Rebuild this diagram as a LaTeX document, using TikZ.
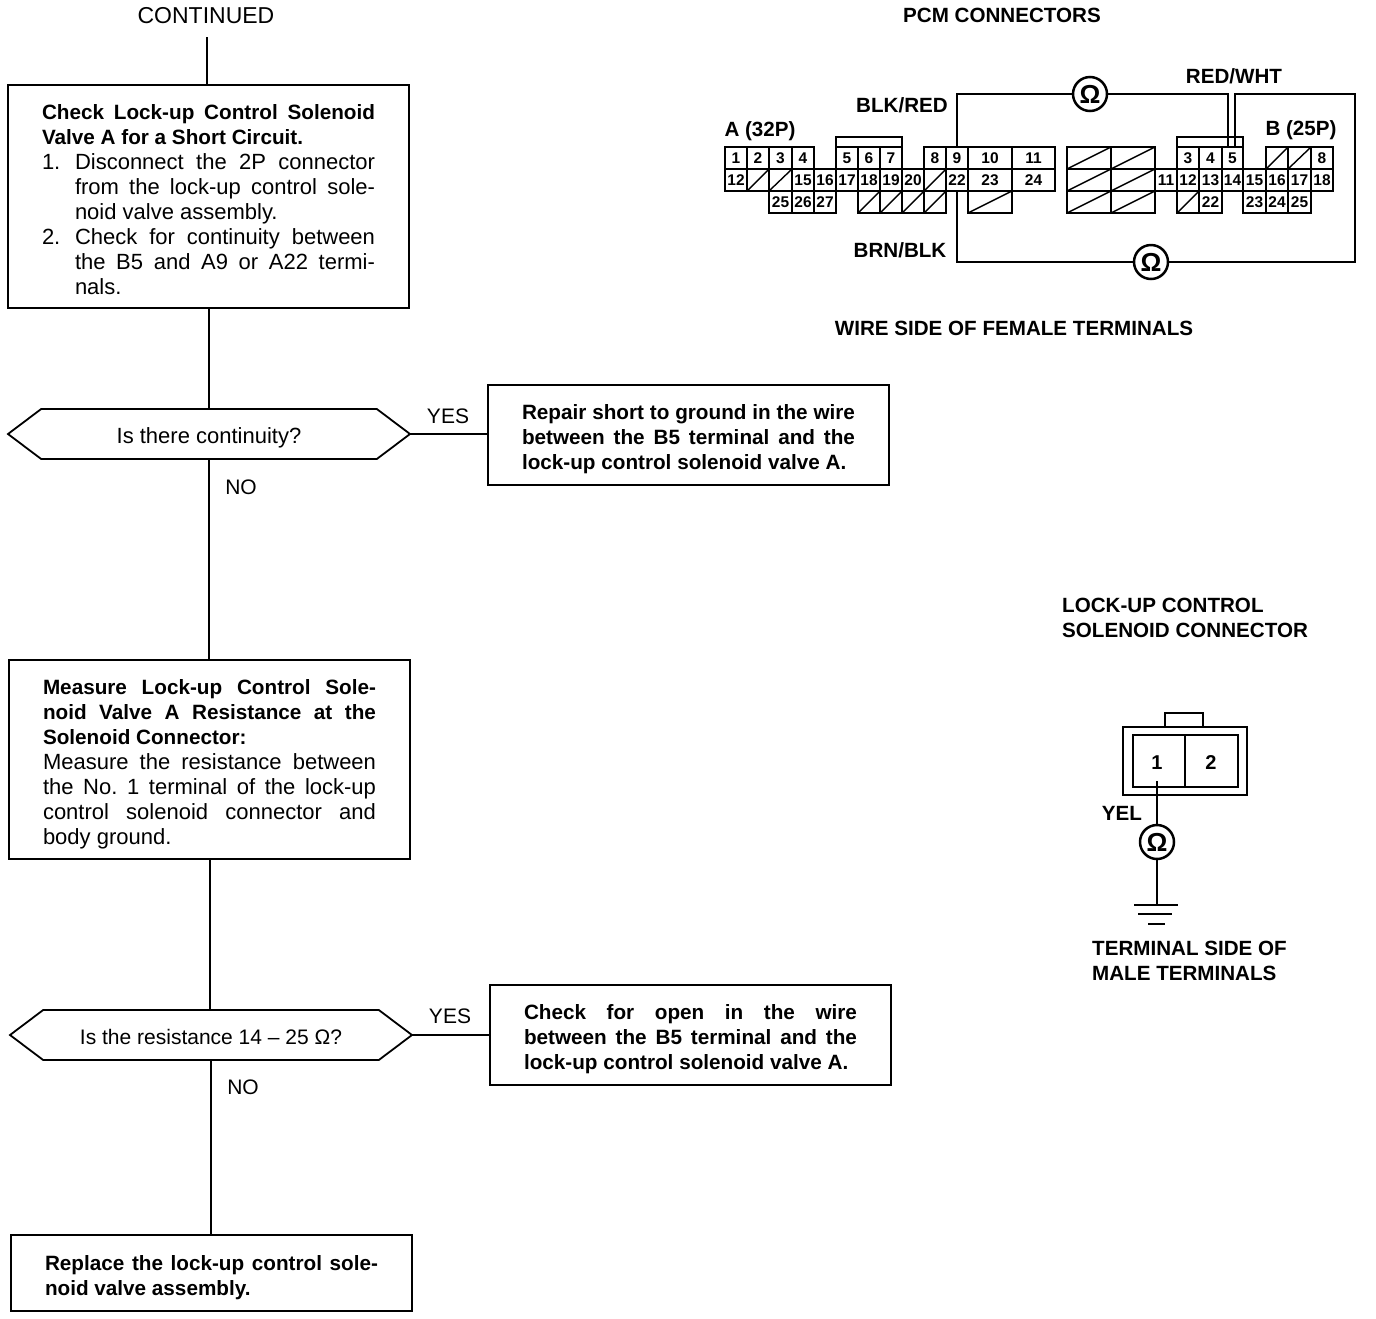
\documentclass[tikz,border=0pt]{standalone}
\usepackage{fontspec}
\setmainfont{Liberation Sans}
\usetikzlibrary{
  shapes.symbols
}

\newcommand{\boldtext}{\fontsize{20.7}{25}\bfseries\selectfont}
% ends the text of a box, and moves it down by half the length
\newcommand{\dropby}[1]{\par\kern-#1\hrule height 0pt}

\tikzset{
  flowbox/.style={draw,line width=2pt,anchor=north west,outer sep=0pt,inner xsep=34pt,inner ysep=0pt,
    text width=333pt,align=justify,font=\fontsize{22}{25}\selectfont\frenchspacing},
  decide/.style={draw,line width=1.8pt,signal,signal to=east and west,signal pointer angle=74,
    outer sep=0pt,minimum width=402pt,minimum height=50pt,inner sep=0pt,
    text height=23pt,text depth=4pt},
  flowline/.style={line width=2pt},
  wire/.style={line width=2.5pt},
  cellline/.style={line width=1.8pt},
  ohm/.style={draw,circle,line width=2.5pt,fill=white,minimum size=34pt,inner sep=0pt,
    font=\fontsize{26}{26}\bfseries\selectfont},
  pin/.style={inner sep=0pt,font=\fontsize{15.5}{16}\bfseries\selectfont},
  caption/.style={inner sep=0pt,font=\fontsize{20.6}{25}\bfseries\selectfont},
  answer/.style={inner sep=0pt,font=\fontsize{21}{25}\selectfont},
}

% one row of numbered terminals: top, bottom, then left/right/number
\newcommand{\termrow}[3]{%
  \foreach \xa/\xb/\txt in {#3} {
    \draw[cellline] (\xa,#1) rectangle (\xb,#2);
    \node[pin] at ({(\xa+\xb)/2},{(#1+#2)/2}) {\txt};
  }}
% same, for the empty terminals
\newcommand{\blankrow}[3]{%
  \foreach \xa/\xb in {#3} {
    \draw[cellline] (\xa,#1) rectangle (\xb,#2);
    \draw[line width=1.4pt] (\xa,#2) -- (\xb,#1);
  }}
\newcommand{\numitem}[1]{\hangindent=33pt\hangafter=1\noindent\makebox[33pt][l]{#1}}

\begin{document}
\begin{tikzpicture}[x=1pt,y=-1pt]
  \useasboundingbox (0,0) rectangle (1376,1318);

  % flow chart
  \node[answer,font=\fontsize{23}{25}\selectfont] (continued) at (206,16) {CONTINUED};
  \coordinate (contend) at (207,37);

  \node[flowbox,minimum height=223pt] (checkbox) at (8,85) {%
    {\boldtext Check Lock-up Control Solenoid\linebreak
    Valve A for a Short Circuit.\par}
    \numitem{1.}Disconnect the 2P connector\linebreak
    from the lock-up control sole-\linebreak
    noid valve assembly.\par
    \numitem{2.}Check for continuity between\linebreak
    the B5 and A9 or A22 termi-\linebreak
    nals.\dropby{6pt}};
  \node[decide,font=\fontsize{22}{25}\selectfont] (contq) at (209,434) {Is there continuity?};
  \node[flowbox,minimum height=100pt] (repairbox) at (488,385) {%
    \boldtext Repair short to ground in the wire\linebreak
    between the B5 terminal and the\linebreak
    lock-up control solenoid valve A.\dropby{8pt}};
  \node[flowbox,minimum height=199pt] (measurebox) at (9,660) {%
    {\boldtext Measure Lock-up Control Sole-\linebreak
    noid Valve A Resistance at the\linebreak
    Solenoid Connector:\par}
    Measure the resistance between\linebreak
    the No. 1 terminal of the lock-up\linebreak
    control solenoid connector and\linebreak
    body ground.\dropby{10pt}};
  \node[decide,font=\fontsize{21}{25}\selectfont] (resq) at (211,1035) {Is the resistance 14 – 25 Ω?};
  \node[flowbox,minimum height=100pt] (openbox) at (490,985) {%
    \boldtext Check for open in the wire\linebreak
    between the B5 terminal and the\linebreak
    lock-up control solenoid valve A.\dropby{8pt}};
  \node[flowbox,minimum height=76pt] (replacebox) at (11,1235) {%
    \boldtext Replace the lock-up control sole-\linebreak
    noid valve assembly.\dropby{10pt}};

  \draw[flowline] (contend) -- (contend |- checkbox.north);
  \draw[flowline] (checkbox.south) -- (checkbox.south |- contq.north);
  \draw[flowline] (contq.south) -- (contq.south |- measurebox.north);
  \draw[flowline] (measurebox.south) -- (measurebox.south |- resq.north);
  \draw[flowline] (resq.south) -- (resq.south |- replacebox.north);
  \draw[flowline] (contq.east) -- (contq.east -| repairbox.west);
  \draw[flowline] (resq.east) -- (resq.east -| openbox.west);

  \node[answer] (yesa) at (448,416) {YES};
  \node[answer] (noa) at (241,487) {NO};
  \node[answer] (yesb) at (450,1016) {YES};
  \node[answer] (nob) at (243,1087) {NO};

  % PCM connectors
  \node[caption] (pcmlabel) at (1002,15) {PCM CONNECTORS};
  \node[caption] (alabel) at (760,131) {A (32P)};
  \node[caption] (blabel) at (1301,130) {B (25P)};
  \node[caption] (blkred) at (902,105) {BLK/RED};
  \node[caption] (redwht) at (1234,76) {RED/WHT};
  \node[caption] (brnblk) at (900,250) {BRN/BLK};
  \node[caption] (wireside) at (1014,328) {WIRE SIDE OF FEMALE TERMINALS};

  \draw[cellline] (836,137) rectangle (902,169);
  \draw[cellline] (1177,137) rectangle (1243,169);
  \termrow{147}{169}{725/747/1,747/769/2,769/792/3,792/814/4,836/858/5,858/880/6,880/902/7,
    924/946/8,946/968/9,968/1012/10,1012/1055/11,1177/1199/3,1199/1222/4,1222/1243/5,1311/1333/8}
  \termrow{169}{191}{725/747/12,792/814/15,814/836/16,836/858/17,858/880/18,880/902/19,902/924/20,
    946/968/22,968/1012/23,1012/1055/24,1155/1177/11,1177/1199/12,1199/1222/13,1222/1243/14,
    1243/1266/15,1266/1288/16,1288/1311/17,1311/1333/18}
  \termrow{191}{213}{769/792/25,792/814/26,814/836/27,1199/1222/22,1243/1266/23,1266/1288/24,1288/1311/25}
  \blankrow{147}{169}{1067/1111,1111/1155,1266/1288,1288/1311}
  \blankrow{169}{191}{747/769,769/792,924/946,1067/1111,1111/1155}
  \blankrow{191}{213}{858/880,880/902,902/924,924/946,968/1012,1067/1111,1111/1155,1177/1199}

  \node[ohm] (ohmtop) at (1090,94) {Ω};
  \node[ohm] (ohmbot) at (1151,262) {Ω};
  \coordinate (pinnine) at (957,147);
  \coordinate (pintwotwo) at (957,192);
  \coordinate (pinfivea) at (1228,147);
  \coordinate (pinfiveb) at (1235,147);
  \coordinate (rightcorner) at (1355,94);
  \draw[wire] (pinnine) |- (ohmtop);
  \draw[wire] (ohmtop) -| (pinfivea);
  \draw[wire] (pinfiveb) |- (rightcorner) |- (ohmbot);
  \draw[wire] (ohmbot) -| (pintwotwo);

  % solenoid connector
  \node[caption,align=left,anchor=west] (sollabel) at (1062,618) {LOCK-UP CONTROL\\SOLENOID CONNECTOR};
  \draw[wire] (1165,727) |- (1203,713) -- (1203,727);
  \draw[wire] (1123,727) rectangle (1247,795);
  \draw[wire] (1133,735) rectangle (1238,787);
  \draw[wire] (1185,735) -- (1185,787);
  \node[pin,font=\fontsize{20}{20}\bfseries\selectfont] (solone) at (1157,763) {1};
  \node[pin,font=\fontsize{20}{20}\bfseries\selectfont] (soltwo) at (1211,763) {2};
  \node[caption] (yel) at (1122,813) {YEL};
  \node[ohm] (ohmsol) at (1157,842) {Ω};
  \coordinate (gnd) at (1157,905);
  \coordinate (solpin) at (1157,781);
  \draw[wire] (solpin) -- (ohmsol);
  \draw[wire] (ohmsol) -- (gnd);
  \draw[wire] (1134,905) -- (1178,905);
  \draw[wire] (1138,914) -- (1172,914);
  \draw[wire] (1148,924) -- (1165,924);
  \node[caption,align=left,anchor=west] (termlabel) at (1092,960.5) {TERMINAL SIDE OF\\MALE TERMINALS};
\end{tikzpicture}
\end{document}
